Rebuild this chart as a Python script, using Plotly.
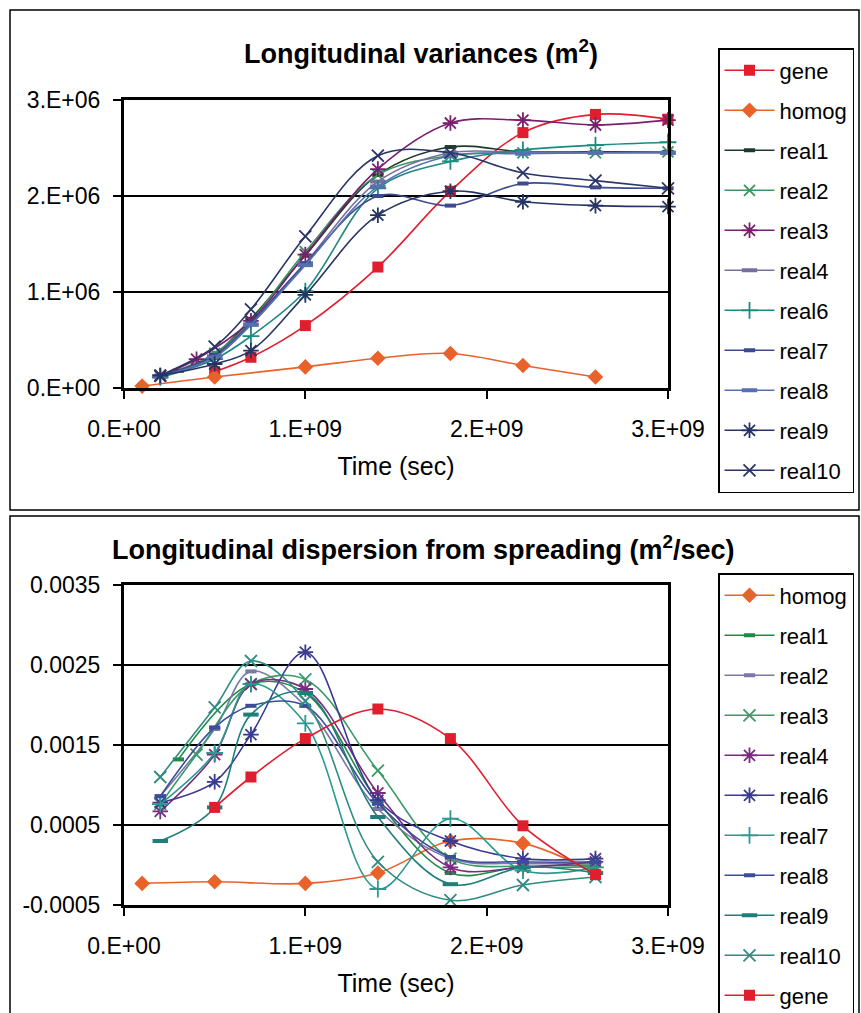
import plotly.graph_objects as go

# ---------------- Longitudinal variances (m^2) ----------------
# time in units of 1e9 s, variance in units of 1e6 m^2
var_gene_t = [0.5, 0.7, 1.0, 1.4, 1.8, 2.2, 2.6, 3.0]
var_gene = [0.17, 0.32, 0.65, 1.26, 2.05, 2.66, 2.85, 2.80]

var_homog_t = [0.1, 0.5, 1.0, 1.4, 1.8, 2.2, 2.6]
var_homog = [0.02, 0.115, 0.22, 0.31, 0.36, 0.235, 0.115]

var_real1_t = [0.2, 0.3, 0.5, 0.7, 1.0, 1.4, 1.8, 2.2, 2.6, 3.0]
var_real1 = [0.12, 0.18, 0.35, 0.72, 1.38, 2.22, 2.51, 2.46, 2.46, 2.46]

var_real_t = [0.2, 0.5, 0.7, 1.0, 1.4, 1.8, 2.2, 2.6, 3.0]
var_real2 = [0.12, 0.36, 0.70, 1.42, 2.22, 2.42, 2.45, 2.45, 2.46]
var_real3_t = [0.2, 0.4, 0.7, 1.0, 1.4, 1.8, 2.2, 2.6, 3.0]
var_real3 = [0.13, 0.30, 0.70, 1.39, 2.28, 2.76, 2.79, 2.74, 2.79]
var_real4 = [0.12, 0.33, 0.66, 1.30, 2.15, 2.45, 2.45, 2.45, 2.45]
var_real6 = [0.11, 0.30, 0.54, 1.01, 2.08, 2.36, 2.48, 2.53, 2.56]
var_real7 = [0.13, 0.34, 0.68, 1.30, 2.00, 1.90, 2.13, 2.09, 2.08]
var_real8 = [0.12, 0.32, 0.66, 1.28, 2.10, 2.42, 2.44, 2.45, 2.45]
var_real9 = [0.13, 0.25, 0.39, 0.97, 1.80, 2.05, 1.94, 1.90, 1.89]
var_real10 = [0.13, 0.43, 0.82, 1.58, 2.42, 2.45, 2.24, 2.16, 2.08]

# ---------------- Longitudinal dispersion (m^2/sec) ----------------
# time in units of 1e9 s, dispersion in units of 1e-3 m^2/s
dis_homog_t = [0.1, 0.5, 1.0, 1.4, 1.8, 2.2, 2.6]
dis_homog = [-0.23, -0.21, -0.23, -0.10, 0.30, 0.27, -0.10]

dis_gene_t = [0.5, 0.7, 1.0, 1.4, 1.8, 2.2, 2.6]
dis_gene = [0.72, 1.10, 1.58, 1.95, 1.58, 0.49, -0.12]

dis_real1_t = [0.3, 0.7, 1.0, 1.4, 1.8, 2.2, 2.6]
dis_real1 = [1.32, 2.26, 2.15, 0.80, -0.10, -0.02, 0.0]

dis_real_t = [0.2, 0.5, 0.7, 1.0, 1.4, 1.8, 2.2, 2.6]
dis_real2 = [0.86, 1.70, 2.42, 1.99, 0.70, 0.08, 0.02, 0.02]
dis_real3_t = [0.2, 0.4, 0.7, 1.0, 1.4, 1.8, 2.2, 2.6]
dis_real3 = [0.76, 1.38, 2.26, 2.32, 1.18, 0.08, -0.02, -0.02]
dis_real4 = [0.67, 1.38, 2.26, 2.20, 0.90, -0.03, -0.03, 0.04]
dis_real6 = [0.78, 1.04, 1.63, 2.66, 0.81, 0.30, 0.08, 0.08]
dis_real7 = [0.76, 1.40, 2.26, 1.77, -0.30, 0.58, -0.07, -0.03]
dis_real8 = [0.86, 1.72, 1.99, 1.99, 0.77, 0.10, 0.04, 0.04]
dis_real9 = [0.30, 0.72, 1.88, 2.15, 0.60, -0.24, -0.03, -0.10]
dis_real10 = [1.10, 1.97, 2.55, 2.05, 0.04, -0.44, -0.25, -0.15]

x_ticks = [0, 1, 2, 3]
x_ticklabels = ["0.E+00", "1.E+09", "2.E+09", "3.E+09"]
var_ticks = [0, 1, 2, 3]
var_ticklabels = ["0.E+00", "1.E+06", "2.E+06", "3.E+06"]
dis_ticks = [-0.5, 0.5, 1.5, 2.5, 3.5]
dis_ticklabels = ["-0.0005", "0.0005", "0.0015", "0.0025", "0.0035"]

FONT = "Arial, Liberation Sans, sans-serif"
W, H = 861, 1013


def px(v):
    return v / W


def py(v):
    return 1 - v / H


def series(x, y, name, color, symbol, size, lw_marker, xa, ya, legend, group):
    return go.Scatter(
        x=[v * 1e9 for v in x],
        y=y,
        name=name,
        mode="lines+markers",
        line=dict(color=color, width=1.6, shape="spline", smoothing=1.0),
        marker=dict(symbol=symbol, size=size, color=color,
                    line=dict(color=color, width=lw_marker)),
        xaxis=xa, yaxis=ya, legend=legend, legendgroup=group,
        cliponaxis=False,
    )


fig = go.Figure()

# top chart traces
top = [
    (var_gene_t, var_gene, "gene", "#E01E2E", "square", 11, 0),
    (var_homog_t, var_homog, "homog", "#E8622A", "diamond", 12, 0),
    (var_real1_t, var_real1, "real1", "#1E3A28", "line-ew-open", 8, 4),
    (var_real_t, var_real2, "real2", "#3A9660", "x-thin-open", 11, 1.8),
    (var_real3_t, var_real3, "real3", "#7A1E6E", "asterisk-open", 13, 1.8),
    (var_real_t, var_real4, "real4", "#77709E", "line-ew-open", 11, 4),
    (var_real_t, var_real6, "real6", "#1C8A7E", "cross-thin-open", 12, 1.8),
    (var_real_t, var_real7, "real7", "#3D4A8F", "line-ew-open", 8, 4),
    (var_real_t, var_real8, "real8", "#5670B0", "line-ew-open", 11, 4),
    (var_real_t, var_real9, "real9", "#263464", "asterisk-open", 13, 1.8),
    (var_real_t, var_real10, "real10", "#2A3466", "x-thin-open", 12, 1.8),
]
for i, (x, y, n, c, s, sz, lw) in enumerate(top):
    fig.add_trace(series(x, [v * 1e6 for v in y], n, c, s, sz, lw,
                         "x", "y", "legend", "t%d" % i))

# bottom chart traces
bottom = [
    (dis_homog_t, dis_homog, "homog", "#E8622A", "diamond", 12, 0),
    (dis_real1_t, dis_real1, "real1", "#1E8A44", "line-ew-open", 8, 4),
    (dis_real_t, dis_real2, "real2", "#7A78A6", "line-ew-open", 8, 4),
    (dis_real3_t, dis_real3, "real3", "#3A9A68", "x-thin-open", 12, 1.8),
    (dis_real_t, dis_real4, "real4", "#7A2A80", "asterisk-open", 13, 1.8),
    (dis_real_t, dis_real6, "real6", "#3A3A90", "asterisk-open", 13, 1.8),
    (dis_real_t, dis_real7, "real7", "#2A9A90", "cross-thin-open", 12, 1.8),
    (dis_real_t, dis_real8, "real8", "#3E4C9C", "line-ew-open", 8, 4),
    (dis_real_t, dis_real9, "real9", "#1E7F7A", "line-ew-open", 11, 4),
    (dis_real_t, dis_real10, "real10", "#2E8C80", "x-thin-open", 12, 1.8),
    (dis_gene_t, dis_gene, "gene", "#E01E2E", "square", 11, 0),
]
for i, (x, y, n, c, s, sz, lw) in enumerate(bottom):
    fig.add_trace(series(x, [v * 1e-3 for v in y], n, c, s, sz, lw,
                         "x2", "y2", "legend2", "b%d" % i))

axis_common = dict(
    showline=True, linecolor="black", linewidth=3, mirror=True,
    ticks="outside", ticklen=8, tickwidth=1.5, tickcolor="black",
    tickfont=dict(family=FONT, size=23, color="black"),
    zeroline=False, automargin=False,
)

xaxis_common = dict(
    range=[0, 3e9],
    tickvals=[v * 1e9 for v in x_ticks], ticktext=x_ticklabels,
    showgrid=False, ticklabelstandoff=10,
    title=dict(text="Time (sec)", font=dict(size=25), standoff=17),
    **axis_common,
)

xdom = [px(124), px(668)]
legend_common = dict(
    x=px(718), xanchor="left", yanchor="top",
    bordercolor="black", borderwidth=1.5, bgcolor="white",
    font=dict(family=FONT, size=22), tracegroupgap=8.4, itemwidth=50,
)

fig.update_layout(
    width=W, height=H,
    margin=dict(l=0, r=0, t=0, b=0, pad=0, autoexpand=False),
    paper_bgcolor="white", plot_bgcolor="white",
    font=dict(family=FONT, color="black"),
    showlegend=True,
    xaxis=dict(domain=xdom, anchor="y", **xaxis_common),
    yaxis=dict(domain=[py(388), py(100)], anchor="x", range=[0, 3e6],
               tickvals=[v * 1e6 for v in var_ticks], ticktext=var_ticklabels,
               showgrid=True, gridcolor="black", gridwidth=1.5,
               ticklabelstandoff=8, **axis_common),
    xaxis2=dict(domain=xdom, anchor="y2", **xaxis_common),
    yaxis2=dict(domain=[py(905), py(585)], anchor="x2", range=[-0.5e-3, 3.5e-3],
                tickvals=[v * 1e-3 for v in dis_ticks], ticktext=dis_ticklabels,
                showgrid=True, gridcolor="black", gridwidth=1.5,
                ticklabelstandoff=8, **axis_common),
    legend=dict(y=py(48), **legend_common),
    legend2=dict(y=py(573), **legend_common),
    annotations=[
        dict(text="<b>Longitudinal variances (m<sup>2</sup>)</b>",
             x=px(421), y=py(52), xref="paper", yref="paper",
             xanchor="center", yanchor="middle",
             showarrow=False, font=dict(size=27, family=FONT)),
        dict(text="<b>Longitudinal dispersion from spreading (m<sup>2</sup>/sec)</b>",
             x=px(423), y=py(548), xref="paper", yref="paper",
             xanchor="center", yanchor="middle",
             showarrow=False, font=dict(size=27, family=FONT)),
    ],
    shapes=[
        dict(type="rect", xref="paper", yref="paper",
             x0=px(10), x1=px(859), y0=py(510), y1=py(10),
             line=dict(color="black", width=1.5)),
        dict(type="rect", xref="paper", yref="paper",
             x0=px(10), x1=px(859), y0=py(1014), y1=py(516),
             line=dict(color="black", width=1.5)),
    ],
)

fig.write_html("out.html")
